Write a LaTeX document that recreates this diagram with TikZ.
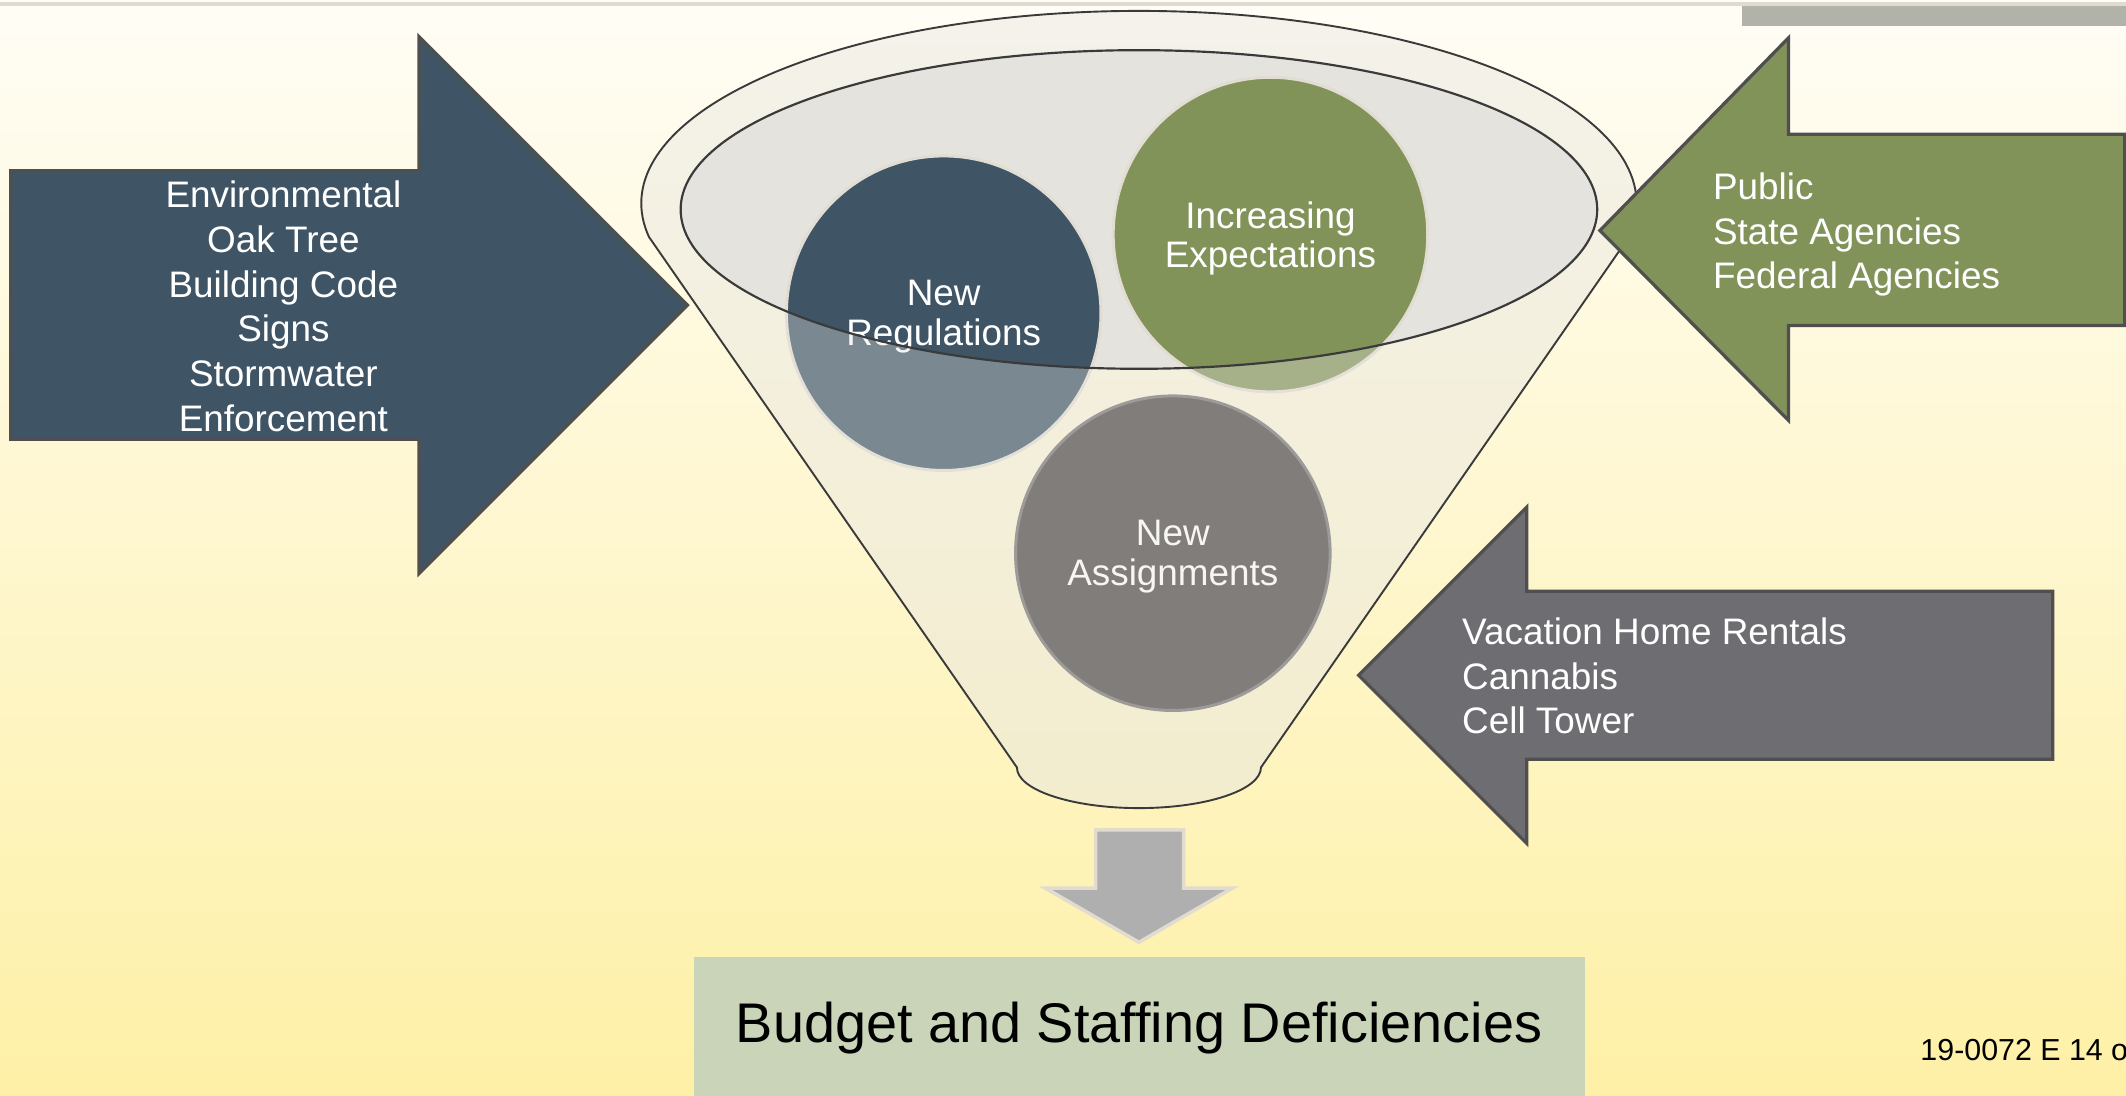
\documentclass[tikz,border=0pt]{standalone}
\usepackage{fontspec}
\setmainfont{Liberation Sans}
\definecolor{bgtop}{HTML}{FFFDF6}
\definecolor{bgbot}{HTML}{FEF0A6}
\definecolor{topline}{HTML}{E0DBD0}
\definecolor{toprect}{HTML}{B1B3AA}
\definecolor{slate}{HTML}{3F5566}
\definecolor{olive}{HTML}{82935A}
\definecolor{greyarr}{HTML}{6E6D72}
\definecolor{greycirc}{HTML}{4A4544}
\definecolor{greyedge}{HTML}{737373}
\definecolor{arredge}{HTML}{4F4F4F}
\definecolor{bubedge}{HTML}{E2DDD3}
\definecolor{fw}{HTML}{EAE8E2}
\definecolor{innerfill}{HTML}{E4E3DD}
\definecolor{funline}{HTML}{3A3A3A}
\definecolor{downfill}{HTML}{AFAFAF}
\definecolor{downedge}{HTML}{E2DCCF}
\definecolor{budgetfill}{HTML}{CAD4B9}
\begin{document}
\begin{tikzpicture}[x=0.5pt,y=-0.5pt,
  bigarrow/.style={draw=arredge,line width=1.2pt,line join=miter},
  listtext/.style={text=white,font=\fontsize{13.6}{16.5}\selectfont,inner sep=0pt},
  bubble/.style={circle,minimum size=116pt,inner sep=0pt,line width=1.1pt},
  bubbletext/.style={align=center,text=white,inner sep=0pt,font=\fontsize{13.6}{14.5}\selectfont},
  funnelline/.style={draw=funline,line width=0.7pt},
]
\useasboundingbox (0,0) rectangle (1568,808);
\shade[top color=bgtop,bottom color=bgbot] (0,0) rectangle (1568,808);
\fill[toprect] (1285,4.5) rectangle (1568,19.5);
\fill[topline] (0,1.5) rectangle (1568,4.5);

% left arrow
\draw[bigarrow,fill=slate] (8,126) -- (309,126) -- (309,27) -- (507,225) -- (309,423) -- (309,324) -- (8,324) -- cycle;
\node[listtext,align=center] (leftlist) at (209,226) {Environmental\\Oak Tree\\Building Code\\Signs\\Stormwater\\Enforcement};

% funnel body (base)
\path[fill=fw,fill opacity=0.23] (478.6,174.7) arc[start angle=170,end angle=370,x radius=367,y radius=142] -- (930,566) arc[start angle=0,end angle=180,x radius=90,y radius=30] -- cycle;
\fill[innerfill] (840,154.5) ellipse[x radius=338,y radius=117.5];

% circles
\node[bubble,fill=slate,draw=bubedge] (reg) at (696,231) {};
\node[bubble,fill=olive,draw=bubedge] (exp) at (937,173) {};
\node[bubble,fill=greycirc,draw=greyedge] (asg) at (865,408) {};
\node[bubbletext] (regtext) at (696,233.5) {New\\Regulations};
\node[bubbletext] (exptext) at (937,176) {Increasing\\Expectations};
\node[bubbletext] (asgtext) at (865,410.5) {New\\Assignments};

% funnel front overlay
\path[fill=fw,fill opacity=0.35,even odd rule] (478.6,174.7) arc[start angle=170,end angle=370,x radius=367,y radius=142] -- (930,566) arc[start angle=0,end angle=180,x radius=90,y radius=30] -- cycle (840,154.5) ellipse[x radius=338,y radius=117.5];
\draw[funnelline] (478.6,174.7) arc[start angle=170,end angle=370,x radius=367,y radius=142] -- (930,566) arc[start angle=0,end angle=180,x radius=90,y radius=30] -- cycle;
\draw[funnelline,line width=0.8pt] (840,154.5) ellipse[x radius=338,y radius=117.5];

% right green arrow
\draw[bigarrow,fill=olive] (1567,99) -- (1319,99) -- (1319,28) -- (1180,170) -- (1319,310) -- (1319,240) -- (1567,240) -- cycle;
\node[listtext,align=left,anchor=west] (rightlist) at (1263,173) {Public\\State Agencies\\Federal Agencies};

% grey arrow
\draw[bigarrow,fill=greyarr] (1514,436) -- (1126,436) -- (1126,374) -- (1002,498) -- (1126,622) -- (1126,560) -- (1514,560) -- cycle;
\node[listtext,align=left,anchor=west] (greylist) at (1078,498.5) {Vacation Home Rentals\\Cannabis\\Cell Tower};

% down arrow
\draw[fill=downfill,draw=downedge,line width=1.3pt,line join=miter] (808,612) -- (873,612) -- (873,655) -- (909,655) -- (840,695) -- (771,655) -- (808,655) -- cycle;

% budget box
\fill[budgetfill] (512,706) rectangle (1169,810);
\node[font=\fontsize{20.6}{25}\selectfont,text=black,inner sep=0pt] (budget) at (840,758) {Budget and Staffing Deficiencies};

% footer
\node[font=\fontsize{11.2}{13}\selectfont,text=black,anchor=base west,inner sep=0pt] (footer) at (1416,782) {19-0072 E 14 o};
\end{tikzpicture}
\end{document}
